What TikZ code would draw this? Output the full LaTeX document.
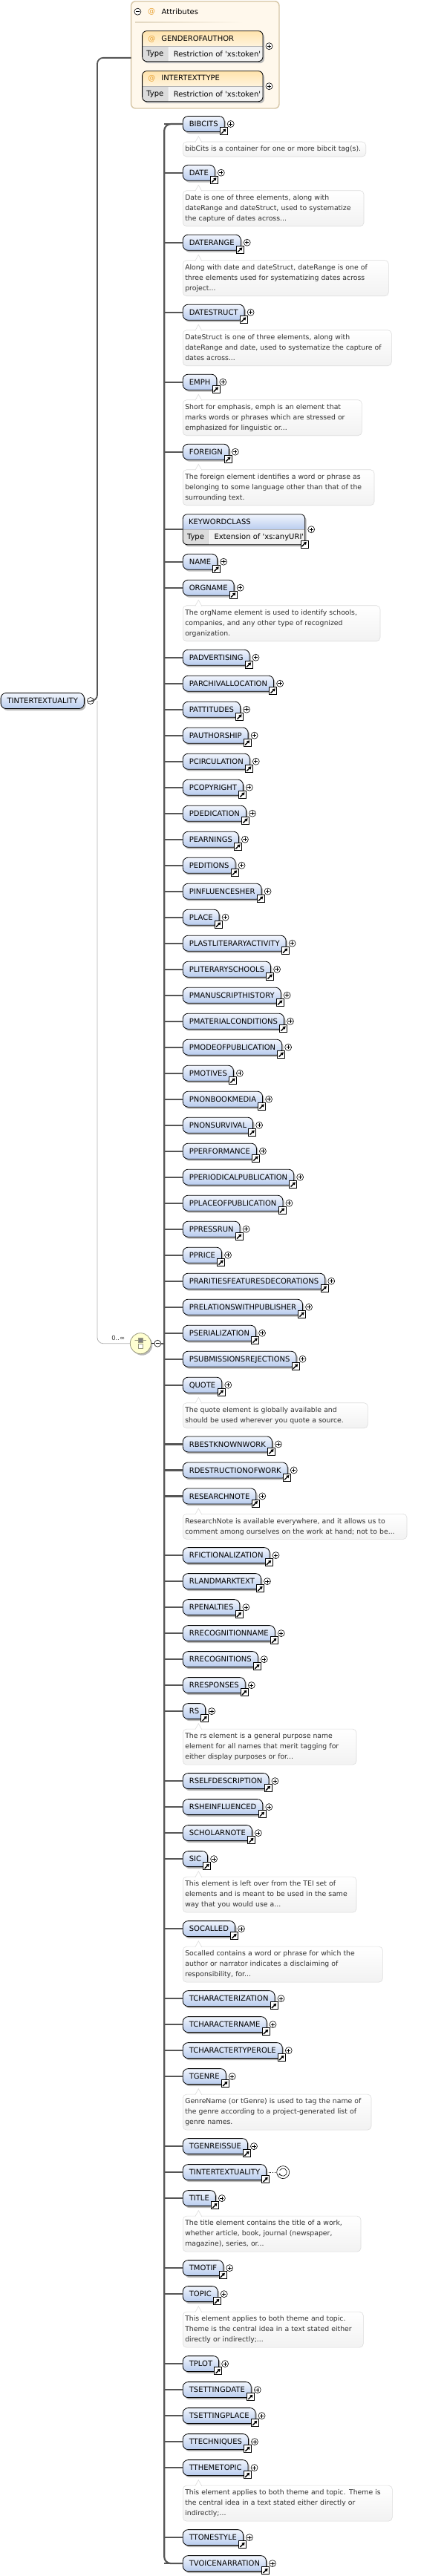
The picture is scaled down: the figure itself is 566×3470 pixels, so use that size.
\documentclass[tikz,border=0pt]{standalone}
\usepackage{fontspec}
\setmainfont{DejaVu Sans}
\usetikzlibrary{shadows, arrows.meta}

\definecolor{elemtop}{HTML}{F2F6FD}
\definecolor{elembot}{HTML}{B8CCEE}
\definecolor{shadowc}{HTML}{B8B8B8}
\definecolor{busgray}{HTML}{555555}
\definecolor{optgray}{HTML}{B0B0B0}
\definecolor{docline}{HTML}{DCDCDC}
\definecolor{docbot}{HTML}{F2F2F2}
\definecolor{doctext}{HTML}{303030}
\definecolor{attrfill}{HTML}{FFF8EC}
\definecolor{attrline}{HTML}{D6C6A6}
\definecolor{attrtop}{HTML}{FFE3AC}
\definecolor{attrbot}{HTML}{FFF4DE}
\definecolor{atorange}{HTML}{E8A030}
\definecolor{typecell}{HTML}{DCDCDC}
\definecolor{valcell}{HTML}{F2F2F2}
\definecolor{choicefill}{HTML}{FFFFD2}
\definecolor{choiceline}{HTML}{9A9A80}

\newcommand{\lblfont}{\fontsize{10}{12}\selectfont}
\newcommand{\docfont}{\fontsize{9.3}{14}\selectfont}

\tikzset{
  elem/.style={draw, line width=0.8pt, rounded corners=7pt, top color=elemtop, bottom color=elembot,
    anchor=west, minimum height=21pt, inner xsep=8.5pt, inner ysep=0pt, text height=7.3pt, text depth=0pt,
    font=\lblfont, outer sep=0pt, drop shadow={shadow xshift=2pt, shadow yshift=-2.5pt, fill=shadowc, opacity=1}},
  btn/.style={circle, draw, line width=0.6pt, fill=white, minimum size=9pt, inner sep=0pt, outer sep=0pt},
  plusc/.style={btn, path picture={\draw[line width=0.6pt]
    ([xshift=-2.6pt]path picture bounding box.center) -- ([xshift=2.6pt]path picture bounding box.center)
    ([yshift=-2.6pt]path picture bounding box.center) -- ([yshift=2.6pt]path picture bounding box.center);}},
  minusc/.style={btn, path picture={\draw[line width=0.6pt]
    ([xshift=-2.6pt]path picture bounding box.center) -- ([xshift=2.6pt]path picture bounding box.center);}},
  linkic/.style={draw, fill=white, line width=0.7pt, minimum size=10pt, inner sep=0pt, outer sep=0pt,
    path picture={\draw[line width=1.4pt, -{Triangle[length=3.6pt, width=4.4pt]}]
      ([shift={(-3.2pt,-3.2pt)}]path picture bounding box.center) -- ([shift={(3pt,3pt)}]path picture bounding box.center);}},
  doc/.style={draw=docline, line width=0.6pt, rounded corners=5pt, top color=white, bottom color=docbot,
    anchor=north west, inner xsep=3pt, inner ysep=0pt, align=left, font=\docfont, text=doctext, outer sep=0pt,
    execute at begin node=\strut, execute at end node=\strut},
  docnotch/.style={draw=docline, fill=white, line width=0.6pt},
  txt/.style={font=\lblfont, inner sep=0pt, anchor=west},
  bus/.style={draw=busgray, line width=2.2pt},
  attrconn/.style={draw=busgray, line width=1.8pt, rounded corners=8pt},
  optconn/.style={draw=optgray, line width=0.8pt, rounded corners=8pt},
  attrbox/.style={draw=attrline, line width=1.4pt, fill=attrfill, rounded corners=6pt, inner sep=0pt, outer sep=0pt},
  recurc/.style={circle, draw, line width=0.6pt, fill=white, minimum size=17pt, inner sep=0pt,
    path picture={\draw[line width=0.6pt, -{Stealth[length=2.6pt, width=2.8pt]}]
      ([shift={(150:5.2pt)}]path picture bounding box.center) arc[start angle=150, end angle=-165, radius=5.2pt];
      \fill (path picture bounding box.center) circle (0.8pt);}},
  choicec/.style={circle, draw=choiceline, line width=0.8pt, fill=choicefill, minimum size=28pt, inner sep=0pt,
    drop shadow={shadow xshift=2pt, shadow yshift=-2pt, fill=shadowc, opacity=1},
    path picture={
      \draw[line width=0.6pt] ([shift={(-8.6pt,4.3pt)}]path picture bounding box.center) -- ([shift={(8.6pt,4.3pt)}]path picture bounding box.center);
      \fill ([shift={(-8.6pt,4.3pt)}]path picture bounding box.center) circle (1pt)
            ([shift={(8.6pt,4.3pt)}]path picture bounding box.center) circle (1pt);
      \filldraw[fill=gray, line width=0.5pt] ([shift={(-3pt,1.6pt)}]path picture bounding box.center) rectangle ([shift={(3pt,7pt)}]path picture bounding box.center);
      \filldraw[fill=white, line width=0.5pt] ([shift={(-3pt,-6.5pt)}]path picture bounding box.center) rectangle ([shift={(3pt,-0.5pt)}]path picture bounding box.center);}},
}

% element reference: box, link icon, expand button, stub to the bus
\newcommand{\xelem}[3]{%
  \node[elem] (#1) at (246.3,#2) {#3};
  \node[linkic] (#1link) at ([xshift=-0.85pt,yshift=0.85pt]#1.south east) {};
  \node[plusc] (#1plus) at ([xshift=8.5pt]#1.east) {};
  \draw[bus] (#1.west) -- (#1.west -| busx);
}
% annotation under an element: element, element y, lines, right edge, text
\newcommand{\xdoc}[5]{%
  \pgfmathsetmacro{\docw}{#4-252.3}%
  \pgfmathsetmacro{\doch}{14*#3+6}%
  \node[doc, text width=\docw pt, minimum height=\doch pt] (#1doc) at (246.3,#2+24) {#5};
  \filldraw[docnotch] ([xshift=16.5pt,yshift=-0.7pt]#1doc.north west) -- ([xshift=21pt,yshift=7.4pt]#1doc.north west)
    -- ([xshift=25.5pt,yshift=-0.7pt]#1doc.north west);
}
% box with a header and a Type row: name, left, top, width, header, value, header colours
\newcommand{\xtype}[8]{%
  \fill[shadowc, rounded corners=6pt] (#2+2,#3+2.5) rectangle (#2+#4+2,#3+43.5);
  \begin{scope}
    \clip[rounded corners=6pt] (#2,#3) rectangle (#2+#4,#3+41);
    \shade[top color=#7, bottom color=#8] (#2,#3) rectangle (#2+#4,#3+21);
    \fill[typecell] (#2,#3+21) rectangle (#2+36,#3+41);
    \fill[valcell] (#2+36,#3+21) rectangle (#2+#4,#3+41);
  \end{scope}
  \draw[black!30, line width=0.5pt] (#2,#3+21) -- (#2+#4,#3+21);
  \draw[white, line width=1pt] (#2+36,#3+21.5) -- (#2+36,#3+41);
  \node[draw, line width=0.8pt, rounded corners=6pt, minimum width=#4pt, minimum height=41pt, inner sep=0pt,
    outer sep=0pt, anchor=north west] (#1) at (#2,#3) {};
  \node[txt] (#1head) at (#2+7.5,#3+10.5) {#5};
  \node[txt] (#1type) at (#2+5.5,#3+31) {Type};
  \node[txt] (#1val) at (#2+42,#3+31) {#6};
  \node[plusc] (#1plus) at ([xshift=8.5pt]#1.east) {};
}

\begin{document}
\begin{tikzpicture}[x=1pt, y=-1pt]
  \fill[white] (0,0) rectangle (566,3470);
  \useasboundingbox (0,0) rectangle (566,3470);

  % the element itself
  \node[elem] (root) at (1.1,944) {TINTERTEXTUALITY};
  \node[minusc] (rootminus) at ([xshift=8.5pt]root.east) {};
  \coordinate (rootjoint) at (131,944);

  % attributes
  \node[attrbox, anchor=north west, minimum width=199.4pt, minimum height=144.3pt] (attrs) at (176.6,1.7) {};
  \node[minusc] (attrsminus) at (185.4,15.7) {};
  \node[txt, text=atorange] (attrsat) at (199,16) {@};
  \node[txt] (attrslabel) at (217.5,16) {Attributes};
  \shade[left color=attrline!70, right color=attrfill] (182,29.4) rectangle (328,30.8);
  \xtype{genderofauthor}{191.6}{41.7}{162.4}{\textcolor{atorange}{@}\hspace{8pt}GENDEROFAUTHOR}{Restriction of \textquotesingle xs:token\textquotesingle}{attrtop}{attrbot}
  \xtype{intertexttype}{191.6}{95.7}{162.4}{\textcolor{atorange}{@}\hspace{8pt}INTERTEXTTYPE}{Restriction of \textquotesingle xs:token\textquotesingle}{attrtop}{attrbot}
  \draw[attrconn] (rootminus.east) -- (rootjoint) |- ([yshift=-4pt]attrs.west);

  % choice, 0..unbounded
  \node[choicec] (choice) at (189.3,1809.7) {};
  \node[minusc] (choiceminus) at (212.3,1809.7) {};
  \coordinate (busx) at (221.2,1809.7);
  \draw[optconn] (rootjoint) |- (choice.west);
  \node[font=\fontsize{8.5}{10}\selectfont, text=black!75, inner sep=0pt] (occurs) at (159.2,1802.5) {0..∞};
  \draw[line width=0.6pt] (choice.east) -- (choiceminus.west);
  \draw[bus] (choiceminus.east) -- (busx);

  % children
  \xelem{bibcits}{167}{BIBCITS}
  \xdoc{bibcits}{167}{1}{492.7}{bibCits is a container for one or more bibcit tag(s).}
  \xelem{date}{232.7}{DATE}
  \xdoc{date}{232.7}{3}{490}{Date is one of three elements, along with\\dateRange and dateStruct, used to systematize\\the capture of dates across...}
  \xelem{daterange}{326.7}{DATERANGE}
  \xdoc{daterange}{326.7}{3}{523.3}{Along with date and dateStruct, dateRange is one of\\three elements used for systematizing dates across\\project...}
  \xelem{datestruct}{420.7}{DATESTRUCT}
  \xdoc{datestruct}{420.7}{3}{527.3}{DateStruct is one of three elements, along with\\dateRange and date, used to systematize the capture of\\dates across...}
  \xelem{emph}{514.7}{EMPH}
  \xdoc{emph}{514.7}{3}{487.3}{Short for emphasis, emph is an element that\\marks words or phrases which are stressed or\\emphasized for linguistic or...}
  \xelem{foreign}{608.7}{FOREIGN}
  \xdoc{foreign}{608.7}{3}{504}{The foreign element identifies a word or phrase as\\belonging to some language other than that of the\\surrounding text.}
  \xtype{keywordclass}{246.3}{692.7}{164.4}{KEYWORDCLASS}{Extension of \textquotesingle xs:anyURI\textquotesingle}{elemtop}{elembot}
  \node[linkic] (keywordclasslink) at ([xshift=-0.85pt,yshift=0.85pt]keywordclass.south east) {};
  \draw[bus] (keywordclass.west) -- (keywordclass.west -| busx);
  \xelem{name}{756.7}{NAME}
  \xelem{orgname}{791.7}{ORGNAME}
  \xdoc{orgname}{791.7}{3}{512}{The orgName element is used to identify schools,\\companies, and any other type of recognized\\organization.}
  \xelem{padvertising}{885.7}{PADVERTISING}
  \xelem{parchivallocation}{920.7}{PARCHIVALLOCATION}
  \xelem{pattitudes}{955.7}{PATTITUDES}
  \xelem{pauthorship}{990.7}{PAUTHORSHIP}
  \xelem{pcirculation}{1025.7}{PCIRCULATION}
  \xelem{pcopyright}{1060.7}{PCOPYRIGHT}
  \xelem{pdedication}{1095.7}{PDEDICATION}
  \xelem{pearnings}{1130.7}{PEARNINGS}
  \xelem{peditions}{1165.7}{PEDITIONS}
  \xelem{pinfluencesher}{1200.7}{PINFLUENCESHER}
  \xelem{place}{1235.7}{PLACE}
  \xelem{plastliteraryactivity}{1270.7}{PLASTLITERARYACTIVITY}
  \xelem{pliteraryschools}{1305.7}{PLITERARYSCHOOLS}
  \xelem{pmanuscripthistory}{1340.7}{PMANUSCRIPTHISTORY}
  \xelem{pmaterialconditions}{1375.7}{PMATERIALCONDITIONS}
  \xelem{pmodeofpublication}{1410.7}{PMODEOFPUBLICATION}
  \xelem{pmotives}{1445.7}{PMOTIVES}
  \xelem{pnonbookmedia}{1480.7}{PNONBOOKMEDIA}
  \xelem{pnonsurvival}{1515.7}{PNONSURVIVAL}
  \xelem{pperformance}{1550.7}{PPERFORMANCE}
  \xelem{pperiodicalpublication}{1585.7}{PPERIODICALPUBLICATION}
  \xelem{pplaceofpublication}{1620.7}{PPLACEOFPUBLICATION}
  \xelem{ppressrun}{1655.7}{PPRESSRUN}
  \xelem{pprice}{1690.7}{PPRICE}
  \xelem{praritiesfeaturesdecorations}{1725.7}{PRARITIESFEATURESDECORATIONS}
  \xelem{prelationswithpublisher}{1760.7}{PRELATIONSWITHPUBLISHER}
  \xelem{pserialization}{1795.7}{PSERIALIZATION}
  \xelem{psubmissionsrejections}{1830.7}{PSUBMISSIONSREJECTIONS}
  \xelem{quote}{1865.7}{QUOTE}
  \xdoc{quote}{1865.7}{2}{495.3}{The quote element is globally available and\\should be used wherever you quote a source.}
  \xelem{rbestknownwork}{1945.4}{RBESTKNOWNWORK}
  \xelem{rdestructionofwork}{1980.4}{RDESTRUCTIONOFWORK}
  \xelem{researchnote}{2015.4}{RESEARCHNOTE}
  \xdoc{researchnote}{2015.4}{2}{548}{ResearchNote is available everywhere, and it allows us to\\comment among ourselves on the work at hand; not to be...}
  \xelem{rfictionalization}{2095.1}{RFICTIONALIZATION}
  \xelem{rlandmarktext}{2130.1}{RLANDMARKTEXT}
  \xelem{rpenalties}{2165.1}{RPENALTIES}
  \xelem{rrecognitionname}{2200.1}{RRECOGNITIONNAME}
  \xelem{rrecognitions}{2235.1}{RRECOGNITIONS}
  \xelem{rresponses}{2270.1}{RRESPONSES}
  \xelem{rs}{2305.1}{RS}
  \xdoc{rs}{2305.1}{3}{480}{The rs element is a general purpose name\\element for all names that merit tagging for\\either display purposes or for...}
  \xelem{rselfdescription}{2399.1}{RSELFDESCRIPTION}
  \xelem{rsheinfluenced}{2434.1}{RSHEINFLUENCED}
  \xelem{scholarnote}{2469.1}{SCHOLARNOTE}
  \xelem{sic}{2504.1}{SIC}
  \xdoc{sic}{2504.1}{3}{480}{This element is left over from the TEI set of\\elements and is meant to be used in the same\\way that you would use a...}
  \xelem{socalled}{2598.1}{SOCALLED}
  \xdoc{socalled}{2598.1}{3}{515.3}{Socalled contains a word or phrase for which the\\author or narrator indicates a disclaiming of\\responsibility, for...}
  \xelem{tcharacterization}{2692.1}{TCHARACTERIZATION}
  \xelem{tcharactername}{2727.1}{TCHARACTERNAME}
  \xelem{tcharactertyperole}{2762.1}{TCHARACTERTYPEROLE}
  \xelem{tgenre}{2797.1}{TGENRE}
  \xdoc{tgenre}{2797.1}{3}{500}{GenreName (or tGenre) is used to tag the name of\\the genre according to a project-generated list of\\genre names.}
  \xelem{tgenreissue}{2891.1}{TGENREISSUE}
  % recursive reference back to the element itself
  \node[elem] (tintertextuality) at (246.3,2926.1) {TINTERTEXTUALITY};
  \node[linkic] (tintertextualitylink) at ([xshift=-0.85pt,yshift=0.85pt]tintertextuality.south east) {};
  \node[recurc] (recur) at ([xshift=22.6pt]tintertextuality.east) {};
  \draw[dotted, line width=0.9pt] ([xshift=3pt]tintertextuality.east) -- (recur.west);
  \draw[bus] (tintertextuality.west) -- (tintertextuality.west -| busx);
  \xelem{title}{2961.1}{TITLE}
  \xdoc{title}{2961.1}{3}{486}{The title element contains the title of a work,\\whether article, book, journal (newspaper,\\magazine), series, or...}
  \xelem{tmotif}{3055.1}{TMOTIF}
  \xelem{topic}{3090.1}{TOPIC}
  \xdoc{topic}{3090.1}{3}{489.3}{This element applies to both theme and topic.\\Theme is the central idea in a text stated either\\directly or indirectly;...}
  \xelem{tplot}{3184.1}{TPLOT}
  \xelem{tsettingdate}{3219.1}{TSETTINGDATE}
  \xelem{tsettingplace}{3254.1}{TSETTINGPLACE}
  \xelem{ttechniques}{3289.1}{TTECHNIQUES}
  \xelem{tthemetopic}{3324.1}{TTHEMETOPIC}
  \xdoc{tthemetopic}{3324.1}{3}{528.3}{This element applies to both theme and topic. Theme is\\the central idea in a text stated either directly or\\indirectly;...}
  \xelem{ttonestyle}{3418.1}{TTONESTYLE}
  \xelem{tvoicenarration}{3453.1}{TVOICENARRATION}

  % the bus joining the children
  \draw[bus, rounded corners=9pt] (bibcits.west) -| (busx) |- (tvoicenarration.west);
\end{tikzpicture}
\end{document}
